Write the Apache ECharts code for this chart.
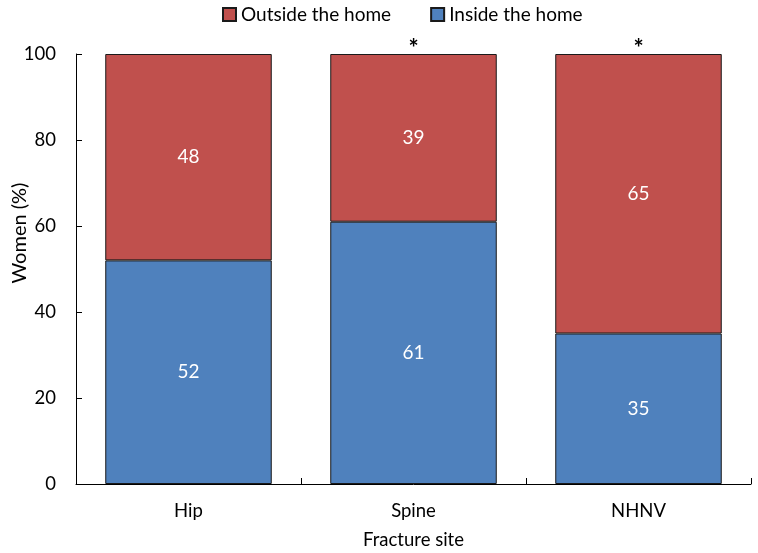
<!DOCTYPE html>
<html>
<head>
<meta charset="utf-8">
<script src="https://cdn.jsdelivr.net/npm/echarts@6/dist/echarts.min.js"></script>
<style>
  html, body { margin: 0; padding: 0; background: #fff; }
  #chart { width: 758px; height: 553px; }
</style>
</head>
<body>
<div id="chart"></div>
<script>
var sites = ['Hip', 'Spine', 'NHNV'];
var insideHome = [52, 61, 35];
var outsideHome = [48, 39, 65];
var significance = ['', '*', '*'];
var yTicks = [0, 20, 40, 60, 80, 100];

var fontFamily = 'Lato, "Open Sans", sans-serif';

var chart = echarts.init(document.getElementById('chart'));
chart.setOption({
    backgroundColor: '#ffffff',
    textStyle: { fontFamily: fontFamily },
    animation: false,
    legend: {
        top: 0,
        left: 217,
        itemWidth: 13,
        itemHeight: 13,
        itemGap: 39,
        icon: 'rect',
        textStyle: { fontSize: 19, color: '#000', fontFamily: fontFamily },
        data: ['Outside the home', 'Inside the home']
    },
    grid: { left: 76, right: 7, top: 54, bottom: 69, containLabel: false, outerBoundsMode: 'none' },
    xAxis: {
        type: 'category',
        data: sites,
        name: 'Fracture site',
        nameLocation: 'middle',
        nameGap: 47,
        nameMoveOverlap: false,
        nameTextStyle: { fontSize: 18.5, color: '#000' },
        axisLine: { lineStyle: { color: '#000', width: 1 } },
        axisTick: { show: true, inside: true, length: 6, lineStyle: { color: '#000' } },
        axisLabel: { fontSize: 18.5, color: '#000', margin: 18 }
    },
    yAxis: {
        type: 'value',
        min: yTicks[0],
        max: yTicks[yTicks.length - 1],
        interval: 20,
        name: 'Women (%)',
        nameLocation: 'middle',
        nameGap: 46,
        nameMoveOverlap: false,
        nameTextStyle: { fontSize: 20, color: '#000', padding: [0, 0, 0, 72] },
        axisLine: { show: true, lineStyle: { color: '#000', width: 1 } },
        axisTick: { show: true, inside: true, length: 6, lineStyle: { color: '#000' } },
        axisLabel: { fontSize: 18.5, color: '#000', margin: 20 },
        splitLine: { show: false }
    },
    series: [{
        name: 'Inside the home',
        type: 'bar',
        stack: 'total',
        barCategoryGap: '26%',
        data: insideHome,
        itemStyle: { color: '#4F81BD', borderColor: '#1a1a1a', borderWidth: 1 },
        label: { show: true, position: 'inside', color: '#fff', fontSize: 19 }
    }, {
        name: 'Outside the home',
        type: 'bar',
        stack: 'total',
        barCategoryGap: '26%',
        data: outsideHome,
        itemStyle: { color: '#C0504D', borderColor: '#1a1a1a', borderWidth: 1 },
        label: { show: true, position: 'inside', color: '#fff', fontSize: 19 }
    }, {
        name: 'sig',
        type: 'bar',
        stack: 'total',
        barCategoryGap: '26%',
        data: significance.map(function () { return 0; }),
        itemStyle: { color: 'transparent' },
        label: {
            show: true,
            position: 'top',
            distance: -7,
            color: '#000',
            fontSize: 24,
            fontWeight: 'bold',
            formatter: function (p) { return significance[p.dataIndex]; }
        },
        silent: true
    }]
});
</script>
</body>
</html>
